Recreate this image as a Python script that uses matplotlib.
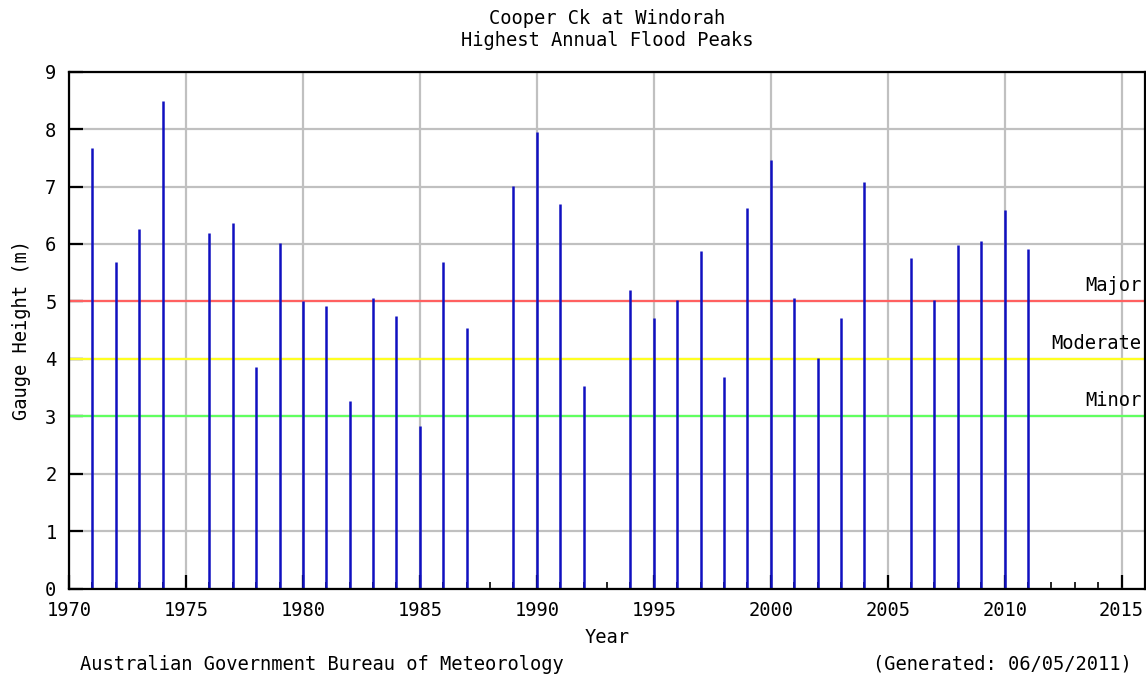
import matplotlib.pyplot as plt
from matplotlib.ticker import MultipleLocator

# Highest annual flood peak (m) at the gauge, by year
years = [1971, 1972, 1973, 1974, 1976, 1977, 1978, 1979, 1980, 1981,
         1982, 1983, 1984, 1985, 1986, 1987, 1989, 1990, 1991, 1992,
         1994, 1995, 1996, 1997, 1998, 1999, 2000, 2001, 2002, 2003,
         2004, 2006, 2007, 2008, 2009, 2010, 2011]
peaks = [7.67, 5.68, 6.26, 8.49, 6.19, 6.36, 3.85, 6.01, 5.01, 4.92,
         3.27, 5.06, 4.75, 2.83, 5.68, 4.54, 7.01, 7.95, 6.70, 3.52,
         5.19, 4.71, 5.03, 5.88, 3.68, 6.63, 7.46, 5.06, 4.02, 4.71,
         7.08, 5.75, 5.02, 5.98, 6.05, 6.60, 5.91]

# flood classification levels
levels = ['Major', 'Moderate', 'Minor']
level_heights = [5, 4, 3]
level_colors = ['#ff6060', '#ffff20', '#60ff60']

fs = 13.5
plt.rcParams['font.family'] = 'DejaVu Sans Mono'
plt.rcParams['font.size'] = fs

fig = plt.figure(figsize=(11.46, 6.77), dpi=100)
ax = fig.add_axes([69 / 1146, 1 - 588.5 / 677, (1145 - 69) / 1146, (588.5 - 71.7) / 677])

ax.set_xlim(1970, 2016)
ax.set_ylim(0, 9)
ax.xaxis.set_major_locator(MultipleLocator(5))
ax.xaxis.set_minor_locator(MultipleLocator(1))
ax.yaxis.set_major_locator(MultipleLocator(1))

ax.grid(True, which='major', color='#c0c0c0', linewidth=1.6, zorder=0)
ax.set_axisbelow(True)

for name, h, c in zip(levels, level_heights, level_colors):
    ax.axhline(h, color=c, linewidth=1.6, zorder=1)
    ax.text(2015.85, h + 0.27, name, ha='right', va='center', fontsize=fs)

ax.vlines(years, 0, peaks, color='#1010c0', linewidth=1.8, zorder=2)

for s in ax.spines.values():
    s.set_linewidth(1.6)
    s.set_color('black')

ax.tick_params(axis='both', which='major', direction='in', length=10, width=1.6,
               labelsize=fs, pad=9)
ax.tick_params(axis='x', which='minor', direction='in', length=5, width=1.2)
ax.tick_params(top=False, right=False, which='both')

ax.set_xlabel('Year', fontsize=fs, labelpad=6)
ax.set_ylabel('Gauge Height (m)', fontsize=fs, labelpad=10)

fig.text(607 / 1146, 1 - 18 / 677, 'Cooper Ck at Windorah', ha='center', va='center', fontsize=fs)
fig.text(607 / 1146, 1 - 40 / 677, 'Highest Annual Flood Peaks', ha='center', va='center', fontsize=fs)
fig.text(80 / 1146, 1 - 664 / 677, 'Australian Government Bureau of Meteorology',
         ha='left', va='center', fontsize=fs)
fig.text(1132 / 1146, 1 - 664 / 677, '(Generated: 06/05/2011)',
         ha='right', va='center', fontsize=fs)

fig.savefig('out.png', dpi=100)
